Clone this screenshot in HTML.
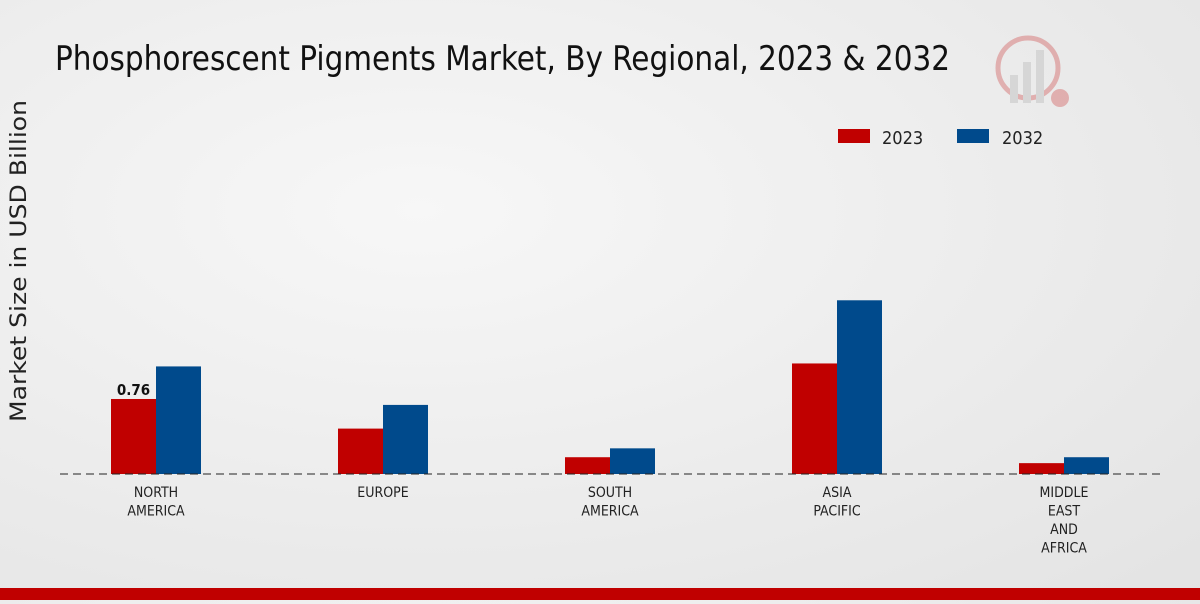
<!DOCTYPE html>
<html><head><meta charset="utf-8"><style>
html,body{margin:0;padding:0;}
body{width:1200px;height:600px;overflow:hidden;background:radial-gradient(ellipse at 35% 35%,#f7f7f7 0%,#ececec 55%,#e3e3e3 100%);font-family:"DejaVu Sans Condensed","Liberation Sans",sans-serif;}
</style></head><body>
<svg id="chart" width="1200" height="600" xmlns="http://www.w3.org/2000/svg" font-family="'DejaVu Sans Condensed','Liberation Sans',sans-serif">
<text x="55" y="70" font-size="34" fill="#111" textLength="895" lengthAdjust="spacingAndGlyphs">Phosphorescent Pigments Market, By Regional, 2023 &amp; 2032</text>
<text transform="translate(26,261) rotate(-90)" text-anchor="middle" font-size="22" fill="#222" font-family="'DejaVu Sans',sans-serif" textLength="322" lengthAdjust="spacingAndGlyphs">Market Size in USD Billion</text>
<g>
<rect x="838" y="129" width="32" height="14" fill="#c00000"/>
<text x="882" y="144" font-size="18" fill="#222">2023</text>
<rect x="957" y="129" width="32" height="14" fill="#004a8c"/>
<text x="1002" y="144" font-size="18" fill="#222">2032</text>
</g>
<g opacity="0.25">
<circle cx="1028" cy="68" r="30" fill="none" stroke="#c00000" stroke-width="5"/>
<rect x="1010" y="75" width="8" height="28" fill="#999"/><rect x="1023" y="62" width="8" height="41" fill="#999"/><rect x="1036" y="50" width="8" height="53" fill="#999"/>
<circle cx="1060" cy="98" r="9" fill="#c00000"/>
</g>
<g id="bars"></g>
<line x1="60" y1="474" x2="1160" y2="474" stroke="#222" stroke-width="1" stroke-dasharray="8,5"/>
<g id="xlabels"></g>
<rect x="0" y="588" width="1200" height="12" fill="#c00000"/>
</svg>
<script>
const categories = [["NORTH","AMERICA"],["EUROPE"],["SOUTH","AMERICA"],["ASIA","PACIFIC"],["MIDDLE","EAST","AND","AFRICA"]];
const values2023 = [0.76,0.46,0.17,1.12,0.11];
const values2032 = [1.09,0.70,0.26,1.76,0.17];
const labelText = ["0.76",null,null,null,null];
const NS="http://www.w3.org/2000/svg";
const base=474, scale=98.7, x0=156, step=227, bw=45;
const yv=v=>base-v*scale;
const bars=document.getElementById('bars'), xl=document.getElementById('xlabels');
function mk(t,a){const e=document.createElementNS(NS,t);for(const k in a)e.setAttribute(k,a[k]);return e;}
categories.forEach((c,i)=>{
  const cx=x0+i*step;
  const r1=mk('rect',{x:cx-bw,y:yv(values2023[i]),width:bw,height:values2023[i]*scale,fill:'#c00000'});
  
  
  bars.appendChild(r1);
  const r2=mk('rect',{x:cx,y:yv(values2032[i]),width:bw,height:values2032[i]*scale,fill:'#004a8c'});
  
  
  bars.appendChild(r2);
  if(labelText[i]){
    const t=mk('text',{x:cx-bw/2,y:yv(values2023[i])-4,'text-anchor':'middle','font-size':15,'font-weight':'bold',fill:'#111'});
    t.textContent=labelText[i];
    
    
    bars.appendChild(t);
  }
  c.forEach((line,j)=>{
    const t=mk('text',{x:cx,y:497+j*18.5,'text-anchor':'middle','font-size':14,fill:'#222'});
    t.textContent=line;
    
    
    xl.appendChild(t);
  });
});
</script>
</body></html>
